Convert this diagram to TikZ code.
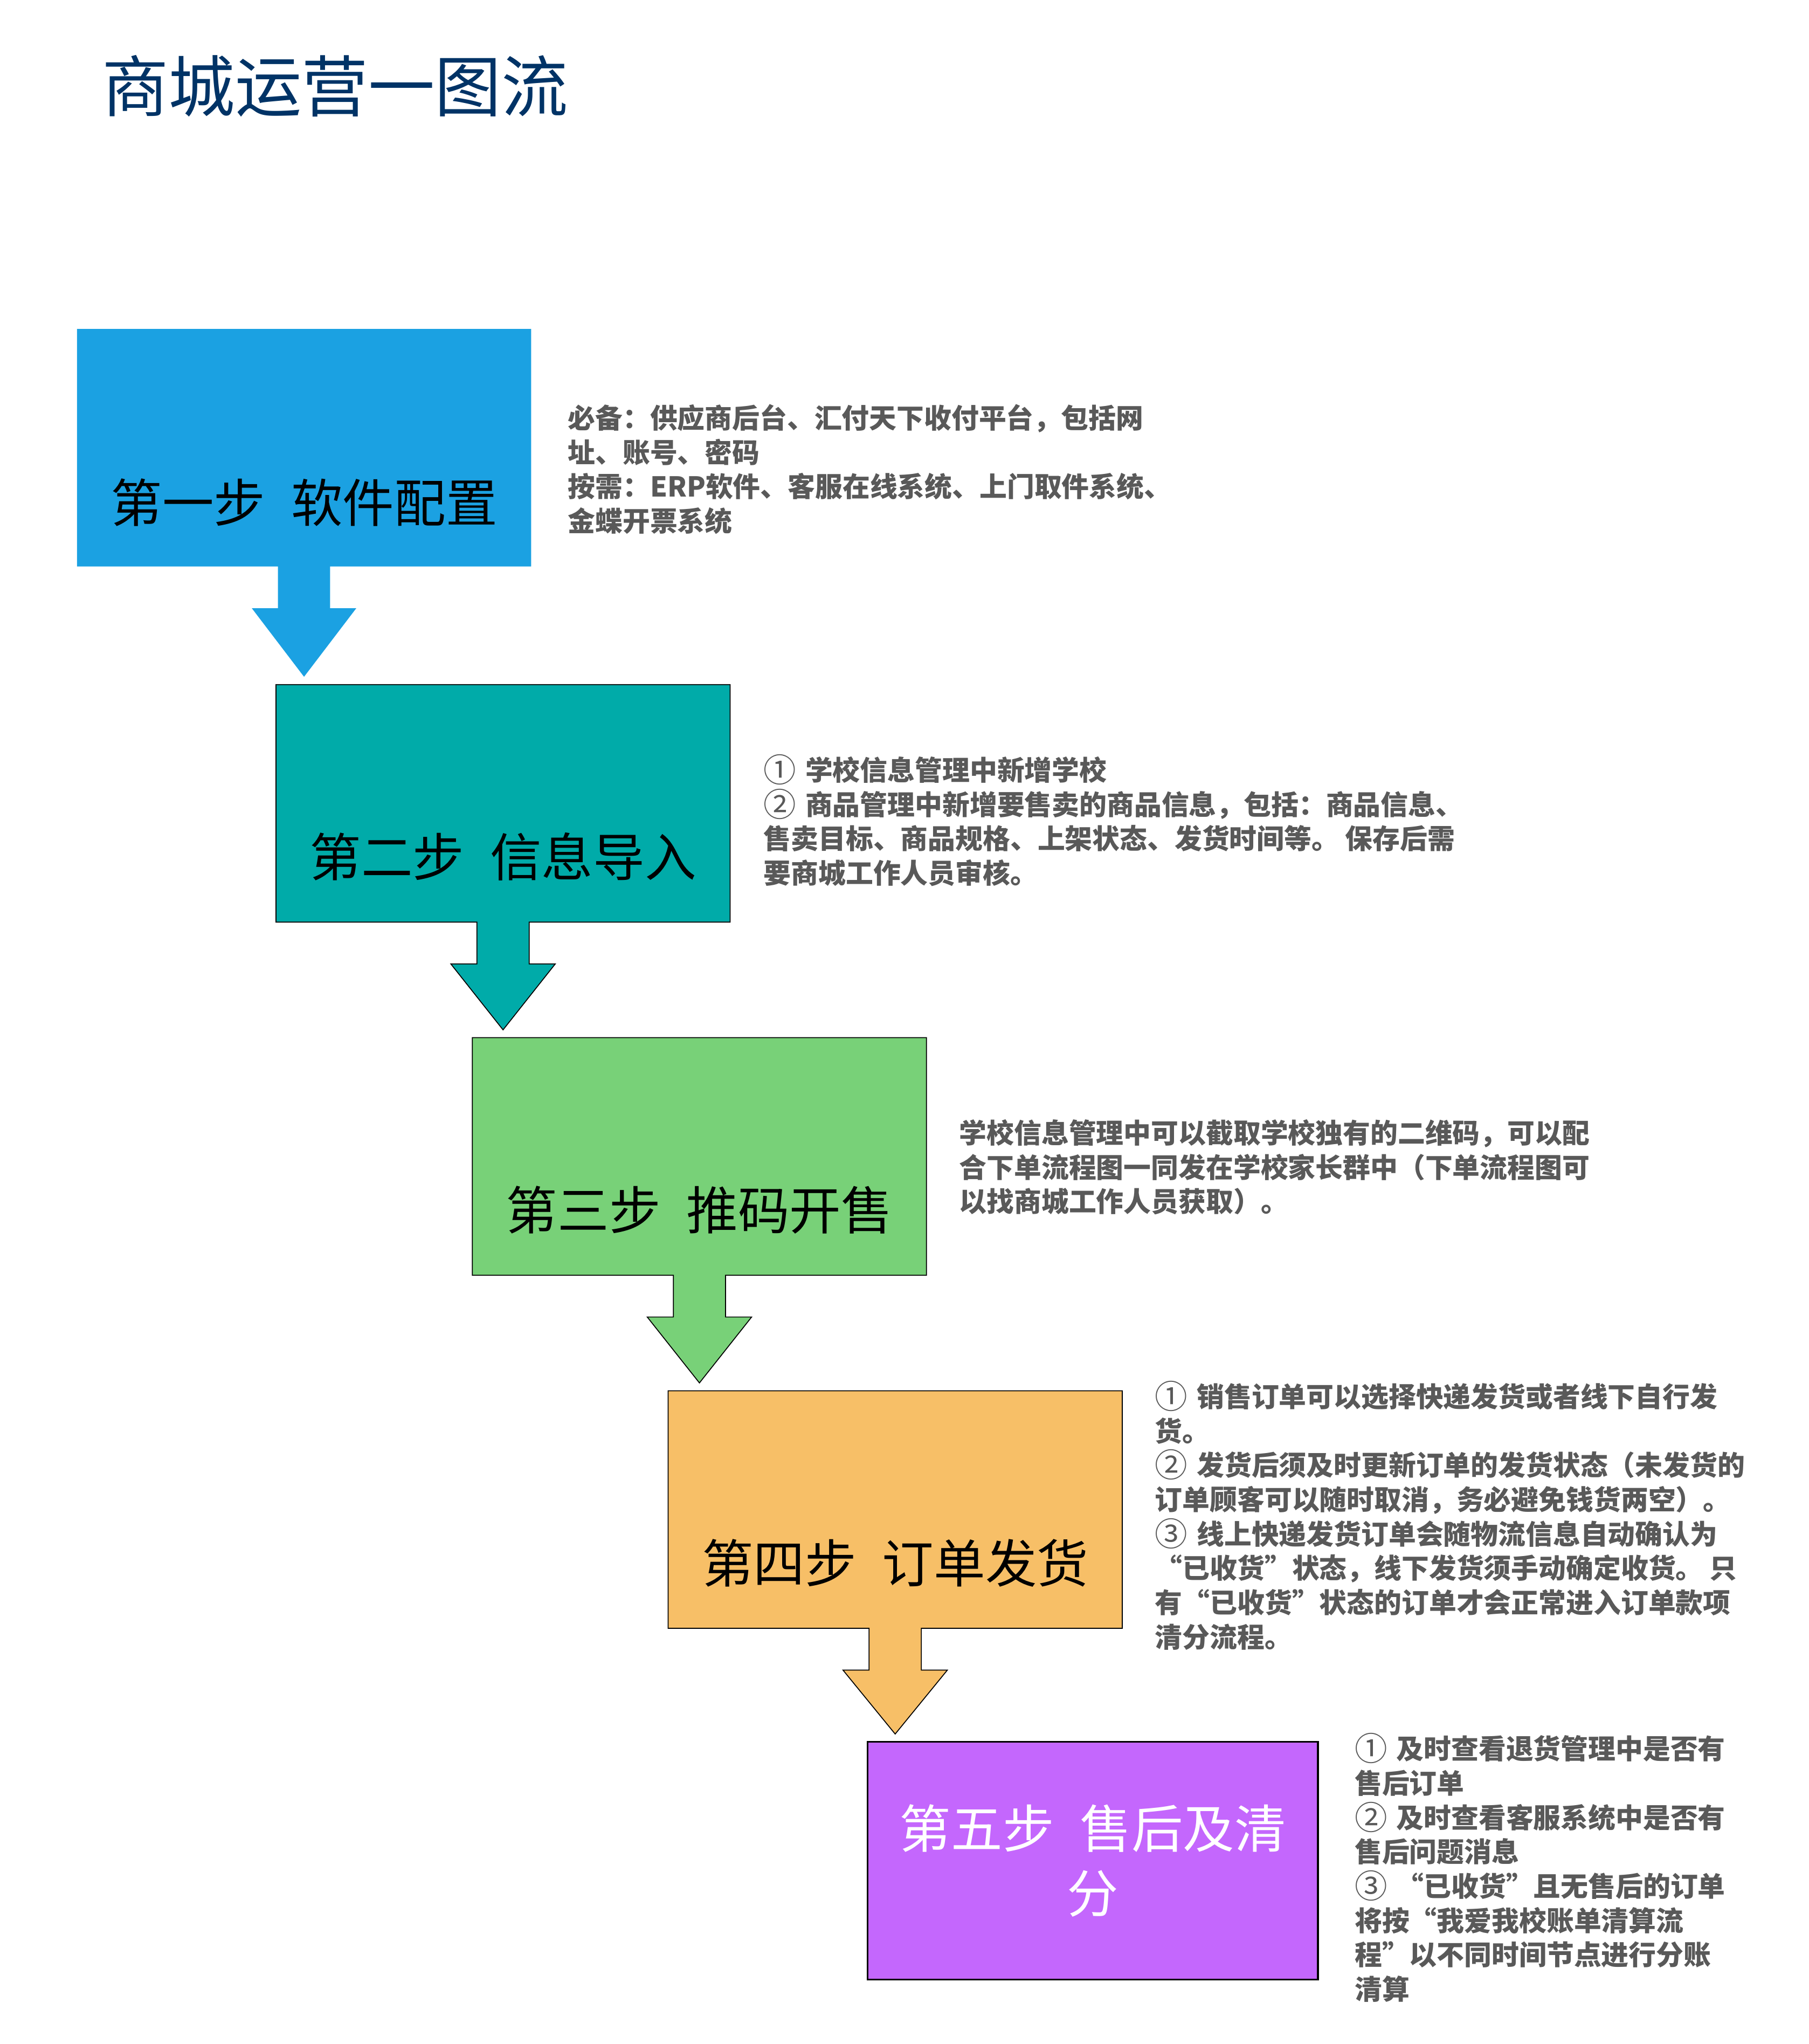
\documentclass[tikz,border=0pt]{standalone}
\usepackage{fontspec}
\setmainfont{Noto Sans CJK SC}
\usetikzlibrary{calc}
\definecolor{titleblue}{HTML}{003366}
\definecolor{notegray}{HTML}{595959}
\definecolor{cone}{HTML}{1BA1E2}
\definecolor{ctwo}{HTML}{00ABA9}
\definecolor{cthree}{HTML}{78D178}
\definecolor{cfour}{HTML}{F7BF67}
\definecolor{cfive}{HTML}{C467FD}
\newcommand\stepshape[3]{%
  \path[#3] (#1.north west) -- (#1.north east) -- (#1.south east)
    -- ($(#1.south)+(20,0)$) -- ++(0,32) -- ++(20,0)
    -- ($(#1.south |- #2.north)+(0,-6)$)
    -- ($(#1.south)+(-40,32)$) -- ++(20,0) -- ++(0,-32)
    -- (#1.south west) -- cycle;}
\newcommand\circnum[1]{\raisebox{-1.2pt}[0pt][0pt]{\mdseries\fontsize{25}{26.3}\selectfont #1}\hspace{7pt}}
\begin{document}
\begin{tikzpicture}[x=1pt,y=-1pt,
  stepbox/.style={minimum width=348pt,minimum height=182pt,inner sep=0pt,outer sep=0pt},
  steptext/.style={font=\fontsize{39.5}{49.7}\selectfont,inner sep=0pt,align=center},
  note/.style={font=\bfseries\fontsize{21}{26.3}\selectfont,text=notegray,align=left,anchor=north west,inner sep=0pt},
  outline/.style={draw=black,line width=0.7pt}]
\useasboundingbox[fill=white] (0,0) rectangle (1386,1566);
% title
\node[anchor=west,inner sep=0pt,text=titleblue,font=\fontsize{51}{60}\selectfont] (title) at (78,66) {商城运营一图流};
% box frames
\node[stepbox] (b1) at (233,343) {};
\node[stepbox] (b2) at (385.5,615.5) {};
\node[stepbox] (b3) at (536,886) {};
\node[stepbox] (b4) at (686,1156.5) {};
\node[stepbox,minimum width=345pt] (b5) at (837.5,1425.5) {};
% shapes with arrows
\stepshape{b1}{b2}{fill=cone}
\stepshape{b2}{b3}{fill=ctwo,outline}
\stepshape{b3}{b4}{fill=cthree,outline}
\stepshape{b4}{b5}{fill=cfour,outline}
\path[fill=cfive,draw=black,line width=1.3pt] (b5.north west) rectangle (b5.south east);
% labels
\node[steptext] (t1) at ($(b1.center)+(0,42)$) {第一步\hspace{0.5em}软件配置};
\node[steptext] (t2) at ($(b2.center)+(0,41)$) {第二步\hspace{0.5em}信息导入};
\node[steptext] (t3) at ($(b3.center)+(0,41)$) {第三步\hspace{0.5em}推码开售};
\node[steptext] (t4) at ($(b4.center)+(0,41)$) {第四步\hspace{0.5em}订单发货};
\node[steptext,text=white] (t5) at (b5.center) {第五步\hspace{0.5em}售后及清\\分};
% notes
\node[note] (n1) at (435,309.5) {必备：供应商后台、汇付天下收付平台，包括网\\址、账号、密码\\按需：ERP软件、客服在线系统、上门取件系统、\\金蝶开票系统};
\node[note] (n2) at (585,579.5) {\circnum{①}学校信息管理中新增学校\\\circnum{②}商品管理中新增要售卖的商品信息，包括：商品信息、\\售卖目标、商品规格、上架状态、发货时间等。 保存后需\\要商城工作人员审核。};
\node[note] (n3) at (735,857.5) {学校信息管理中可以截取学校独有的二维码，可以配\\合下单流程图一同发在学校家长群中（下单流程图可\\以找商城工作人员获取）。};
\node[note] (n4) at (885,1059.5) {\circnum{①}销售订单可以选择快递发货或者线下自行发\\货。\\\circnum{②}发货后须及时更新订单的发货状态（未发货的\\订单顾客可以随时取消，务必避免钱货两空）。\\\circnum{③}线上快递发货订单会随物流信息自动确认为\\“已收货”状态，线下发货须手动确定收货。 只\\有“已收货”状态的订单才会正常进入订单款项\\清分流程。};
\node[note] (n5) at (1038,1329.5) {\circnum{①}及时查看退货管理中是否有\\售后订单\\\circnum{②}及时查看客服系统中是否有\\售后问题消息\\\circnum{③}“已收货”且无售后的订单\\将按“我爱我校账单清算流\\程”以不同时间节点进行分账\\清算};
\end{tikzpicture}
\end{document}
